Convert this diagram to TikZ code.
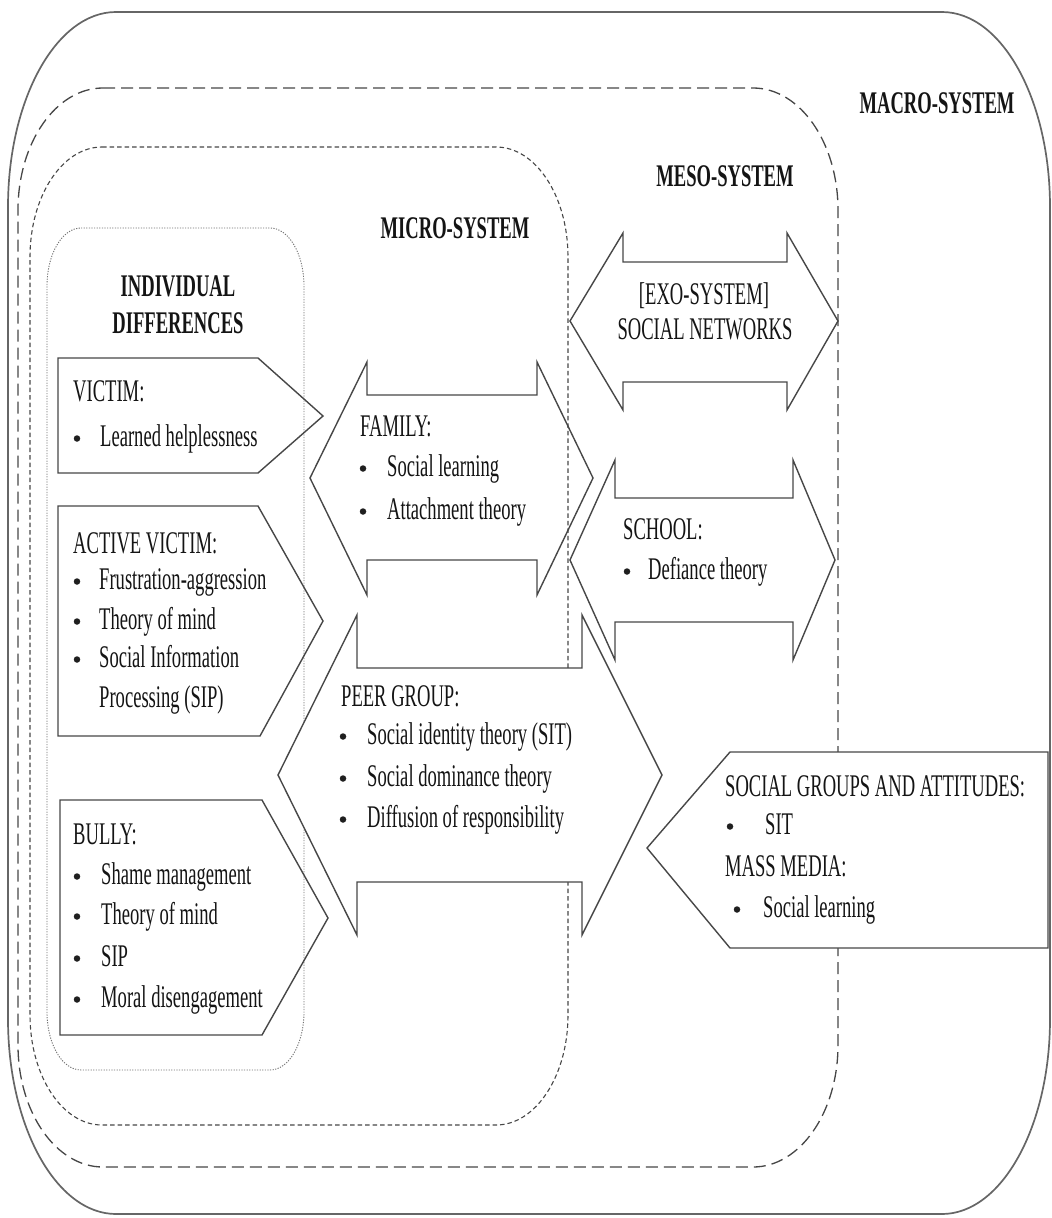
\documentclass[tikz,border=0pt]{standalone}
\usepackage{fontspec}
\setmainfont{Liberation Serif}[FakeStretch=0.59]
\tikzset{
  txt/.style={inner sep=0pt, text=black!92, font=\fontsize{31.5}{41}\selectfont},
  ttl/.style={txt, font=\fontsize{31.5}{41}\selectfont\bfseries},
  dot/.style={circle, fill=black!88, inner sep=0pt, minimum size=6.5pt},
  macroline/.style={draw=black!60, line width=1.7pt},
  mesoline/.style={draw=black!72, line width=1.3pt, dash pattern=on 12pt off 6pt},
  microline/.style={draw=black!72, line width=1.1pt, dash pattern=on 4.5pt off 3pt},
  indivline/.style={draw=black!55, line width=0.9pt, dash pattern=on 1.2pt off 1.4pt},
  shapeline/.style={draw=black!72, line width=1.4pt, line join=miter},
}
\newcommand{\EllBox}[7]{%
  \def\bxL{#2}\def\bxT{#3}\def\bxR{#4}\def\bxB{#5}\def\bxX{#6}\def\bxY{#7}%
  \draw[#1] (\bxL+\bxX,\bxT) -- (\bxR-\bxX,\bxT)
    .. controls (\bxR-0.4477*\bxX,\bxT) and (\bxR,\bxT+0.4477*\bxY) .. (\bxR,\bxT+\bxY)
    -- (\bxR,\bxB-\bxY)
    .. controls (\bxR,\bxB-0.4477*\bxY) and (\bxR-0.4477*\bxX,\bxB) .. (\bxR-\bxX,\bxB)
    -- (\bxL+\bxX,\bxB)
    .. controls (\bxL+0.4477*\bxX,\bxB) and (\bxL,\bxB-0.4477*\bxY) .. (\bxL,\bxB-\bxY)
    -- (\bxL,\bxT+\bxY)
    .. controls (\bxL,\bxT+0.4477*\bxY) and (\bxL+0.4477*\bxX,\bxT) .. (\bxL+\bxX,\bxT)
    -- cycle;}
\newcommand{\TxtHead}[4]{\node[txt,anchor=base west] (#1) at (#2,#3) {#4};}
\newcommand{\TxtItem}[5]{%
  \node[dot] (#1-b) at (#2,#4-7.5) {};
  \node[txt,anchor=base west] (#1) at (#3,#4) {#5};}
\begin{document}
\begin{tikzpicture}[x=1pt,y=-1pt]
\fill[white] (0,0) rectangle (1052,1218);
\useasboundingbox (0,0) rectangle (1052,1218);

% system boundaries
\EllBox{macroline}{8}{12}{1050}{1214}{108}{195}
\EllBox{mesoline}{18}{88}{838}{1167}{85}{122}
\EllBox{microline}{30}{147}{568}{1125}{72}{110}
\EllBox{indivline}{47}{228}{304}{1070}{34}{58}

% individual-difference pentagons
\draw[shapeline] (58,358) -- (258,358) -- (323,416) -- (258,473) -- (58,473) -- cycle;
\draw[shapeline] (58,506) -- (258,506) -- (323,621) -- (260,736) -- (58,736) -- cycle;
\draw[shapeline] (60,800) -- (262,800) -- (328,918) -- (262,1035) -- (60,1035) -- cycle;

% double arrows
\draw[shapeline] (310,478) -- (367,362) -- (367,395) -- (537,395) -- (537,362) -- (593,478)
  -- (537,595) -- (537,560) -- (367,560) -- (367,595) -- cycle;
\draw[shapeline] (570,321) -- (623,233) -- (623,262) -- (787,262) -- (787,233) -- (838,321)
  -- (787,410) -- (787,382) -- (623,382) -- (623,410) -- cycle;
\draw[shapeline, fill=white] (278,775) -- (357,615) -- (357,668) -- (582,668) -- (582,615) -- (662,775)
  -- (582,935) -- (582,882) -- (357,882) -- (357,935) -- cycle;
\draw[shapeline] (570,560) -- (615,460) -- (615,498) -- (793,498) -- (793,460) -- (835,560)
  -- (793,660) -- (793,622) -- (615,622) -- (615,660) -- cycle;

% macro-system pentagon
\draw[shapeline, fill=white] (647,848) -- (730,752) -- (1048,752) -- (1048,948) -- (730,948) -- cycle;

% titles
\node[ttl,anchor=base] (macro) at (937,113) {MACRO-SYSTEM};
\node[ttl,anchor=base] (meso) at (725,186) {MESO-SYSTEM};
\node[ttl,anchor=base] (micro) at (455,238) {MICRO-SYSTEM};
\node[ttl,anchor=base] (indiv1) at (178,296) {INDIVIDUAL};
\node[ttl,anchor=base] (indiv2) at (178,333) {DIFFERENCES};
\node[txt,anchor=base] (exo1) at (704,304) {[EXO-SYSTEM]};
\node[txt,anchor=base] (exo2) at (705,339) {SOCIAL NETWORKS};

% victim
\TxtHead{victim}{73}{401}{VICTIM:}
\TxtItem{vic1}{77}{100}{446}{Learned helplessness}
% active victim
\TxtHead{active}{73}{553}{ACTIVE VICTIM:}
\TxtItem{act1}{77}{99}{589}{Frustration-aggression}
\TxtItem{act2}{77}{99}{629}{Theory of mind}
\TxtItem{act3}{77}{99}{667}{Social Information}
\TxtHead{act3b}{99}{707}{Processing (SIP)}
% bully
\TxtHead{bully}{73}{844}{BULLY:}
\TxtItem{bul1}{77}{101}{884}{Shame management}
\TxtItem{bul2}{77}{101}{924}{Theory of mind}
\TxtItem{bul3}{77}{101}{966}{SIP}
\TxtItem{bul4}{77}{101}{1007}{Moral disengagement}
% family
\TxtHead{family}{360}{436}{FAMILY:}
\TxtItem{fam1}{363}{387}{476}{Social learning}
\TxtItem{fam2}{363}{387}{519}{Attachment theory}
% school
\TxtHead{school}{623}{539}{SCHOOL:}
\TxtItem{sch1}{627}{648}{579}{Defiance theory}
% peer group
\TxtHead{peer}{341}{706}{PEER GROUP:}
\TxtItem{peer1}{343}{367}{744}{Social identity theory (SIT)}
\TxtItem{peer2}{343}{367}{786}{Social dominance theory}
\TxtItem{peer3}{343}{367}{827}{Diffusion of responsibility}
% social groups / mass media
\TxtHead{social}{725}{796}{SOCIAL GROUPS AND ATTITUDES:}
\TxtItem{soc1}{730}{765}{834}{SIT}
\TxtHead{media}{725}{876}{MASS MEDIA:}
\TxtItem{med1}{737}{763}{917}{Social learning}
\end{tikzpicture}
\end{document}
